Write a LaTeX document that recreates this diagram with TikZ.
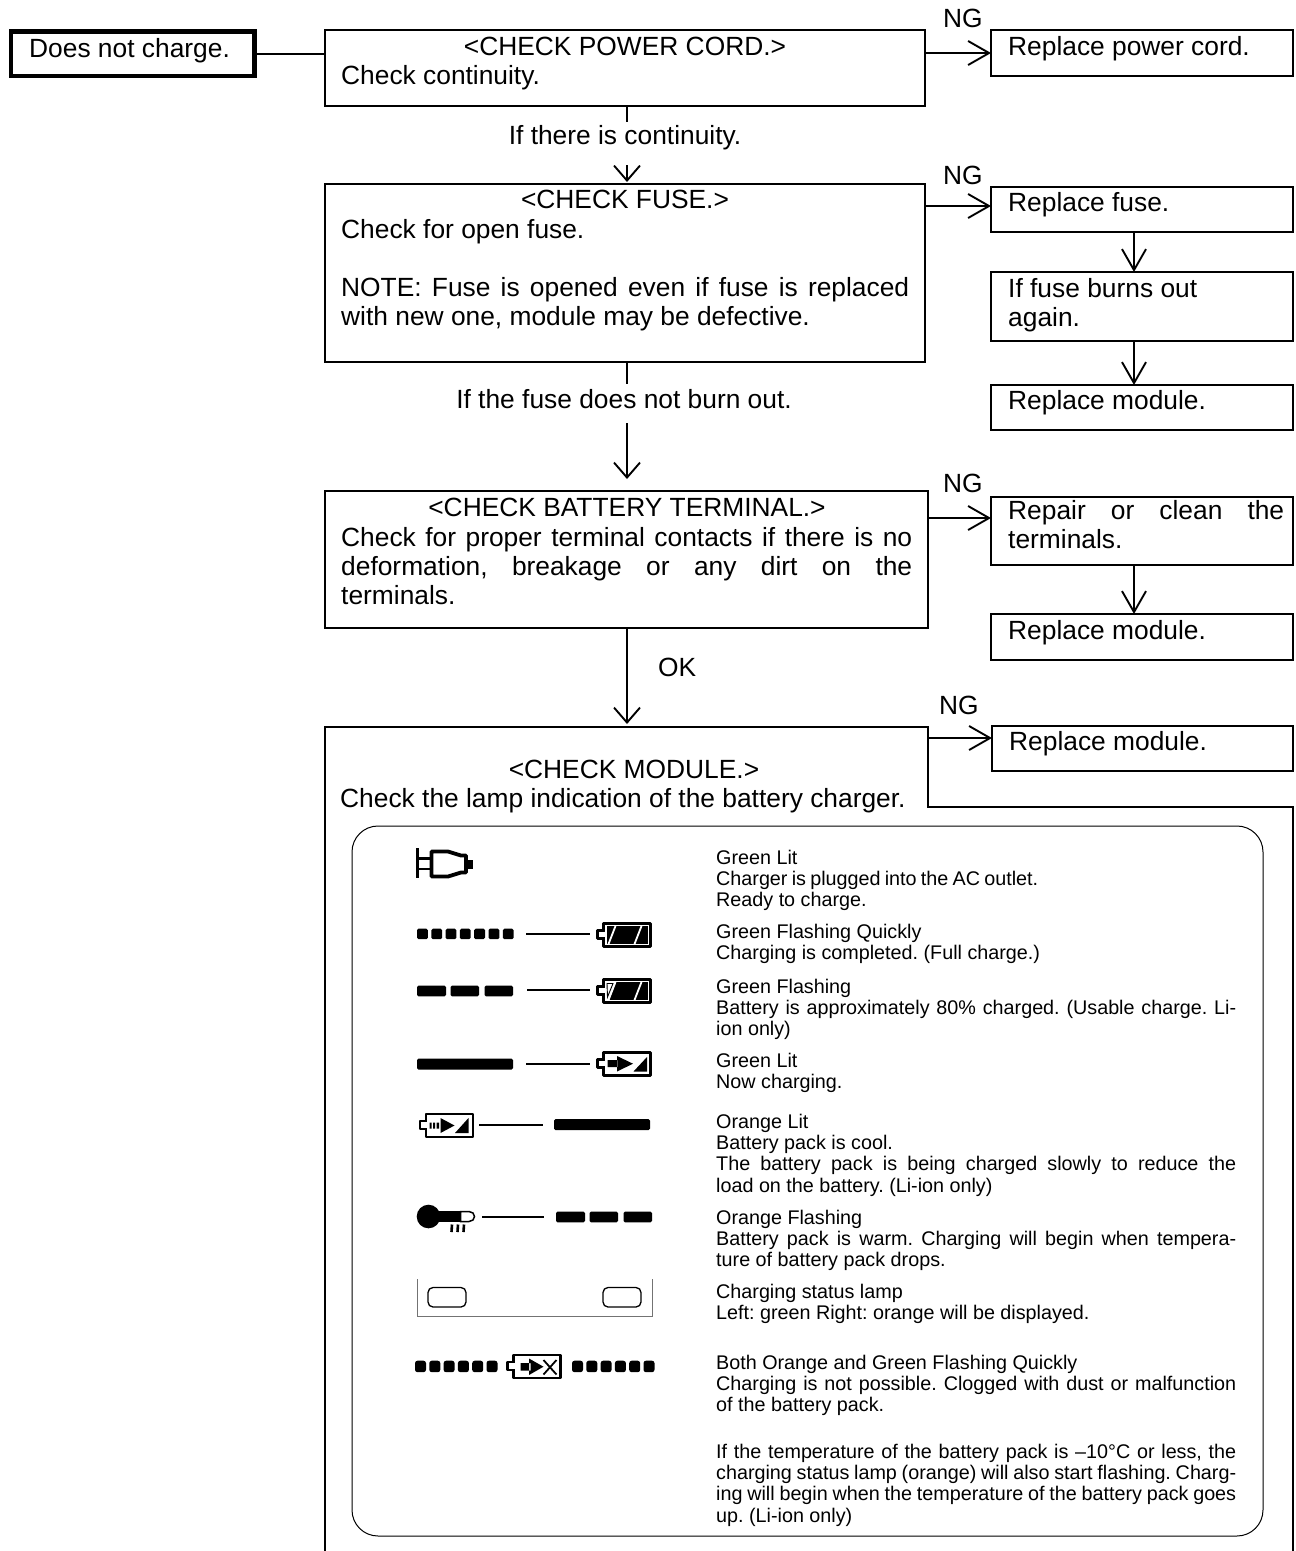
\documentclass[tikz,border=0pt]{standalone}
\usepackage{fontspec}
\setmainfont{Liberation Sans}
\usetikzlibrary{arrows.meta,calc}
\newcommand{\bigt}{\fontsize{26.35}{29}\selectfont\frenchspacing}
\newcommand{\smallt}{\fontsize{19.75}{21.4}\selectfont\frenchspacing}
\newcommand{\jl}[2]{\leavevmode\hbox to #1pt{#2}}
\tikzset{
 x=1pt,y=-1pt,
 box/.style={draw,line width=1.9pt,anchor=north west,inner sep=0pt,outer sep=0pt},
 big/.style={anchor=base west,inner sep=0pt,font=\bigt},
 bigc/.style={anchor=base,inner sep=0pt,font=\bigt},
 small/.style={anchor=base west,inner sep=0pt,font=\smallt},
 link/.style={line width=1.9pt},
 arr/.style={line width=1.9pt,-{Straight Barb[length=21pt,width=24pt,line width=1.9pt]}},
 arrs/.style={line width=1.9pt,-{Straight Barb[length=15pt,width=26pt,line width=1.9pt]}},
 gap/.style={bigc,fill=white,inner sep=0pt},
 led/.style={fill=black,rounded corners=1.5pt},
 ico/.style={line width=2pt},
}
\newcommand{\bx}[6][]{\node[box,#1,minimum width=#4pt-#2pt,minimum height=#5pt-#3pt] (#6) at (#2,#3) {};}
% battery outline: x, y top of body
\newcommand{\battbody}[2]{%
 \begin{scope}[shift={(#1,#2)}]
 \draw[line width=2.2pt,line join=round,fill=white] (0,7) -- (-6,7) -- (-6,15) -- (0,15) (0,0) rectangle (47,23);
 \draw[white,line width=2.4pt] (0,8.2) -- (0,13.8);
 \end{scope}}
\newcommand{\arrowchg}[2]{%
 \begin{scope}[shift={(#1,#2)}]
 \fill (4,7.5) rectangle (14,14.5) (13.5,3.5) -- (29.5,11.2) -- (13.5,19) -- cycle;
 \fill (30,19) -- (43.5,4.5) -- (43.5,19) -- cycle;
 \end{scope}}
\newcommand{\slashes}[2]{%
 \begin{scope}[shift={(#1,#2)}]
 \fill (3.2,2.8) rectangle (44,20.2);
 \draw[white,line width=1.8pt] (12,2.5) -- (5,20.5) (38,2.5) -- (31,20.5);
 \end{scope}}
\newcommand{\dashesrow}[2]{%
 \begin{scope}[shift={(#1,#2)}]
 \fill[led] (0,0) rectangle (29,10.8);
 \fill[led] (33.5,0) rectangle (62,10.8);
 \fill[led] (67.5,0) rectangle (96,10.8);
 \end{scope}}
\begin{document}
\begin{tikzpicture}
\useasboundingbox (0,0) rectangle (1296,1551);
% left-hand flow
\bx[line width=4.5pt]{11}{31.5}{254.5}{75.8}{start}
\node[big] (tstart) at (29,57) {Does not charge.};
\bx{325}{30}{925}{106}{cord}
\node[bigc] (tcord1) at (625,55) {<CHECK POWER CORD.>};
\node[big] (tcord2) at (341,84) {Check continuity.};
\bx{991}{30}{1293}{76}{rcord}
\node[big] (trcord) at (1008,55) {Replace power cord.};
\node[big] (ng1) at (943,27) {NG};
\coordinate (a0) at (0,54);
\draw[link] (start.east |- a0) -- (cord.west |- a0);
\draw[arr] (cord.east |- rcord.west) -- (rcord.west);
% fuse
\bx{325}{184}{925}{362}{fuse}
\node[bigc] (tfuse1) at (625,208) {<CHECK FUSE.>};
\node[big] (tfuse2) at (341,238) {Check for open fuse.};
\node[big] (tfuse3) at (341,296) {\parbox[t]{568pt}{\jl{568}{NOTE: Fuse is opened even if fuse is replaced}\\with new one, module may be defective.}};
\coordinate (a1) at (627,0);
\draw[arrs,shorten >=2pt] (a1 |- cord.south) -- (a1 |- fuse.north);
\node[gap,text height=22pt,text depth=21pt] (lcont) at (625,144) {If there is continuity.};
\coordinate (a2) at (0,206);
\bx{991}{187}{1293}{232}{rfuse}
\node[big] (trfuse) at (1008,211) {Replace fuse.};
\node[big] (ng2) at (943,184) {NG};
\draw[arr] (fuse.east |- a2) -- (rfuse.west |- a2);
\bx{991}{272}{1293}{341}{again}
\node[big] (tagain) at (1008,297) {\parbox[t]{280pt}{If fuse burns out\\again.}};
\bx{991}{385}{1293}{430}{rmod1}
\node[big] (trmod1) at (1008,409) {Replace module.};
\coordinate (a3) at (1134,0);
\draw[arr] (a3 |- rfuse.south) -- (a3 |- again.north);
\draw[arr] (a3 |- again.south) -- (a3 |- rmod1.north);
% battery terminal
\bx{325}{491}{928}{628}{term}
\node[bigc] (tterm1) at (627,516) {<CHECK BATTERY TERMINAL.>};
\node[big] (tterm2) at (341,546) {\parbox[t]{571pt}{\jl{571}{Check for proper terminal contacts if there is no}\\\jl{571}{deformation, breakage or any dirt on the}\\terminals.}};
\coordinate (a4) at (627,0);
\draw[arrs,shorten >=12pt] (a4 |- fuse.south) -- (a4 |- term.north);
\node[gap,text height=24pt,text depth=15pt] (lburn) at (624,408) {If the fuse does not burn out.};
\coordinate (a5) at (0,518);
\bx{991}{497}{1293}{565}{rep}
\node[big] (trep) at (1008,519) {\parbox[t]{276pt}{\jl{276}{Repair or clean the}\\terminals.}};
\node[big] (ng3) at (943,492) {NG};
\draw[arr] (term.east |- a5) -- (rep.west |- a5);
\bx{991}{614}{1293}{660}{rmod2}
\node[big] (trmod2) at (1008,639) {Replace module.};
\draw[arr] (a3 |- rep.south) -- (a3 |- rmod2.north);
\node[big] (lok) at (658,676) {OK};
% module
\coordinate (mtop) at (627,727);
\draw[arrs,shorten >=3pt] (a4 |- term.south) -- (mtop);
\draw[line width=1.9pt] (325,1556) -- (325,727) -- (928,727) -- (928,807) -- (1293,807) -- (1293,1556);
\coordinate (a6) at (928,738);
\bx{992}{726}{1293}{771}{rmod3}
\node[big] (trmod3) at (1009,750) {Replace module.};
\node[big] (ng4) at (939,714) {NG};
\draw[arr] (a6) -- (rmod3.west |- a6);
\node[bigc] (tmod1) at (634,778) {<CHECK MODULE.>};
\node[big] (tmod2) at (340,807) {Check the lamp indication of the battery charger.};
\draw[line width=1pt,rounded corners=26pt] (352,826) rectangle (1263,1536);
% legend texts
\node[small] (s1) at (716,864) {\parbox[t]{520pt}{Green Lit\\\jl{322}{Charger is plugged into the AC outlet.}\\Ready to charge.}};
\node[small] (s2) at (716,938) {\parbox[t]{520pt}{Green Flashing Quickly\\Charging is completed. (Full charge.)}};
\node[small] (s3) at (716,993) {\parbox[t]{520pt}{Green Flashing\\\jl{520}{Battery is approximately 80\% charged. (Usable charge. Li-}\\ion only)}};
\node[small] (s4) at (716,1067) {\parbox[t]{520pt}{Green Lit\\Now charging.}};
\node[small] (s5) at (716,1128) {\parbox[t]{520pt}{Orange Lit\\Battery pack is cool.\\\jl{520}{The battery pack is being charged slowly to reduce the}\\load on the battery. (Li-ion only)}};
\node[small] (s6) at (716,1224) {\parbox[t]{520pt}{Orange Flashing\\\jl{520}{Battery pack is warm. Charging will begin when tempera-}\\ture of battery pack drops.}};
\node[small] (s7) at (716,1298) {\parbox[t]{520pt}{Charging status lamp\\Left: green Right: orange will be displayed.}};
\node[small] (s8) at (716,1369) {\parbox[t]{520pt}{Both Orange and Green Flashing Quickly\\\jl{520}{Charging is not possible. Clogged with dust or malfunction}\\of the battery pack.}};
\node[small] (s9) at (716,1458) {\parbox[t]{520pt}{\jl{520}{If the temperature of the battery pack is –10°C or less, the}\\\jl{520}{charging status lamp (orange) will also start flashing. Charg-}\\\jl{520}{ing will begin when the temperature of the battery pack goes}\\up. (Li-ion only)}};
% plug icon
\draw[line width=2.4pt] (417.5,848) -- (417.5,878) (417.5,858.5) -- (431,858.5) (417.5,869) -- (431,869);
\draw[line width=3.8pt,line join=round] (431.5,851.5) -- (448,851.5) -- (461,855.5) -- (466,855.5) -- (466,872.5) -- (461,872.5) -- (448,876.5) -- (431.5,876.5) -- cycle;
\fill (465,859.5) rectangle (473,868.5);
% row 1
\foreach \i in {0,...,6} {\fill[led] ({417+14.3*\i},928.7) rectangle ++(10.8,10.5);}
\draw[ico] (526,934) -- (590,934);
\battbody{603.5}{923.5}\slashes{603.5}{923.5}
% row 2
\dashesrow{417}{985.5}
\draw[ico] (527,989.5) -- (590,989.5);
\battbody{603.5}{979.5}\slashes{603.5}{979.5}
\fill[white] (606,982) -- (616,982) -- (609,1000.5) -- (606,1000.5) -- cycle;
\draw[line width=.9pt] (607,983.5) -- (613,983.5) -- (607.5,997) -- cycle;
% row 3
\fill[led] (417,1058.5) rectangle (513,1069.5);
\draw[ico] (526,1063.5) -- (590,1063.5);
\battbody{603.5}{1052.5}\arrowchg{603.5}{1052.5}
% row 4
\battbody{426}{1114}
\begin{scope}[shift={(426,1114)}]
 \fill (3.5,8.5) rectangle (5.5,14.5) (7,8.5) rectangle (9,14.5) (10.5,8.5) rectangle (13,14.5);
 \fill (14.5,4) -- (28.5,11.5) -- (14.5,19) -- cycle;
 \fill (29,19) -- (42.5,4) -- (42.5,19) -- cycle;
\end{scope}
\draw[ico] (479,1124.5) -- (543,1124.5);
\fill[led] (554,1119) rectangle (650,1130);
% row 5
\fill (428.5,1216.5) circle (11.8);
\fill (430,1210.8) rectangle (462,1222.2);
\draw[line width=1.5pt,fill=white] (460.5,1211.5) -- (469,1211.5) -- (473,1213) -- (474.5,1216.5) -- (473,1220) -- (469,1221.5) -- (460.5,1221.5) -- cycle;
\draw[line width=2.6pt] (452,1224.5) -- (451.5,1232) (458,1224.5) -- (457.5,1232) (464,1224.5) -- (463.5,1232);
\draw[ico] (482,1217) -- (544,1217);
\dashesrow{556}{1211.5}
% row 6
\draw[black!55,line width=1pt] (417,1279) -- (417,1316) -- (652,1316) -- (652,1279);
\draw[line width=1.3pt,rounded corners=5pt] (428,1287.5) rectangle (466,1307);
\draw[line width=1.3pt,rounded corners=5pt] (603,1287.5) rectangle (641,1307);
% row 7
\foreach \i in {0,...,5} {\fill[led,rounded corners=2.5pt] ({415+14.3*\i},1360.7) rectangle ++(11,11.5);}
\foreach \i in {0,...,5} {\fill[led,rounded corners=2.5pt] ({572+14.3*\i},1360.7) rectangle ++(11,11.5);}
\battbody{513.5}{1355}
\begin{scope}[shift={(513.5,1355)}]
 \fill (7,8) rectangle (17,15.5) (15.5,3.5) -- (30,11.7) -- (15.5,20) -- cycle;
 \draw[line width=1.8pt] (30,5) -- (43,19.5) (43,5) -- (30,19.5);
\end{scope}
\end{tikzpicture}
\end{document}
